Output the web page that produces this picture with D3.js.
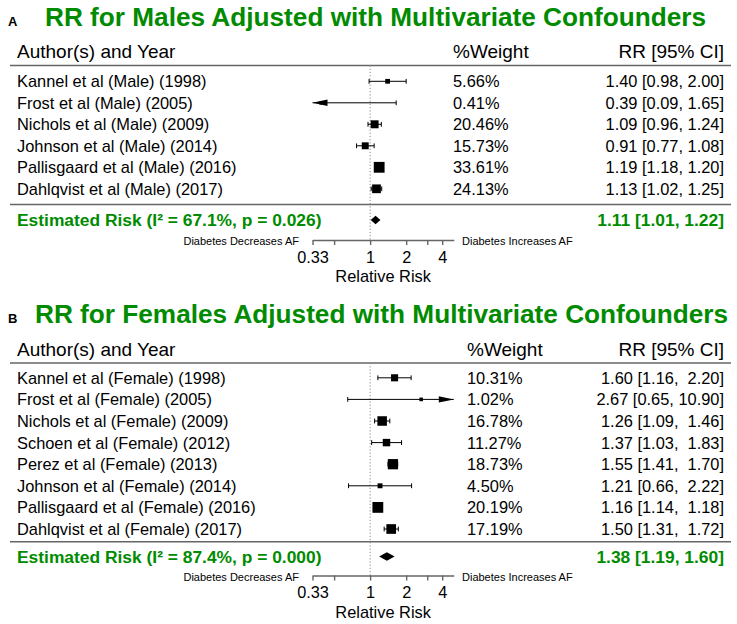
<!DOCTYPE html>
<html>
<head>
<meta charset="utf-8">
<script src="https://cdn.jsdelivr.net/npm/d3@7"></script>
<style>
  html, body { margin: 0; padding: 0; background: #fff; }
  text { font-family: "Liberation Sans", Arial, Helvetica, sans-serif; white-space: pre; }
</style>
</head>
<body>
<svg id="chart" width="737" height="624"></svg>
<script>
// ---------- DATA ----------
const maleStudies = ["Kannel et al (Male) (1998)", "Frost et al (Male) (2005)", "Nichols et al (Male) (2009)",
  "Johnson et al (Male) (2014)", "Pallisgaard et al (Male) (2016)", "Dahlqvist et al (Male) (2017)"];
const maleRR    = [1.40, 0.39, 1.09, 0.91, 1.19, 1.13];
const maleLower = [0.98, 0.09, 0.96, 0.77, 1.18, 1.02];
const maleUpper = [2.00, 1.65, 1.24, 1.08, 1.20, 1.25];
const maleWeight = [5.66, 0.41, 20.46, 15.73, 33.61, 24.13];
const maleCI = ["1.40 [0.98, 2.00]", "0.39 [0.09, 1.65]", "1.09 [0.96, 1.24]", "0.91 [0.77, 1.08]",
  "1.19 [1.18, 1.20]", "1.13 [1.02, 1.25]"];
const maleSummary = { rr: 1.11, lower: 1.01, upper: 1.22, label: "Estimated Risk (I\u00B2 = 67.1%, p = 0.026)",
  ci: "1.11 [1.01, 1.22]" };

const femaleStudies = ["Kannel et al (Female) (1998)", "Frost et al (Female) (2005)", "Nichols et al (Female) (2009)",
  "Schoen et al (Female) (2012)", "Perez et al (Female) (2013)", "Johnson et al (Female) (2014)",
  "Pallisgaard et al (Female) (2016)", "Dahlqvist et al (Female) (2017)"];
const femaleRR    = [1.60, 2.67, 1.26, 1.37, 1.55, 1.21, 1.16, 1.50];
const femaleLower = [1.16, 0.65, 1.09, 1.03, 1.41, 0.66, 1.14, 1.31];
const femaleUpper = [2.20, 10.90, 1.46, 1.83, 1.70, 2.22, 1.18, 1.72];
const femaleWeight = [10.31, 1.02, 16.78, 11.27, 18.73, 4.50, 20.19, 17.19];
const femaleCI = ["1.60 [1.16,  2.20]", "2.67 [0.65, 10.90]", "1.26 [1.09,  1.46]", "1.37 [1.03,  1.83]",
  "1.55 [1.41,  1.70]", "1.21 [0.66,  2.22]", "1.16 [1.14,  1.18]", "1.50 [1.31,  1.72]"];
const femaleSummary = { rr: 1.38, lower: 1.19, upper: 1.60, label: "Estimated Risk (I\u00B2 = 87.4%, p = 0.000)",
  ci: "1.38 [1.19, 1.60]" };

const axisDomain = [0.33, 5];
const tickValues = [0.33, 0.5, 1, 2, 3, 4];
const tickLabels = ["0.33", "", "1", "2", "", "4"];
const headerLabels = ["Author(s) and Year", "%Weight", "RR [95% CI]"];
const axisTitle = "Relative Risk";
const leftNote = "Diabetes Decreases AF";
const rightNote = "Diabetes Increases AF";

// ---------- DRAW ----------
const GREEN = "#008B00";
const GREY = "#666";
const svg = d3.select("#chart");
svg.append("rect").attr("width", 737).attr("height", 624).attr("fill", "#fff");

const x = d3.scaleLog().domain(axisDomain).range([312.5, 453.8]);

function drawPanel(cfg) {
  const g = svg.append("g");
  const n = cfg.studies.length;
  const yRow = i => cfg.rowY0 + i * cfg.rowStep;

  // panel letter + title
  g.append("text").attr("x", 8).attr("y", cfg.titleY).attr("font-size", 13).attr("font-weight", "bold")
    .text(cfg.letter);
  g.append("text").attr("x", cfg.titleX).attr("y", cfg.titleY).attr("font-size", 26.2).attr("font-weight", "bold")
    .attr("fill", GREEN).text(cfg.title);

  // headers
  g.append("text").attr("x", 17).attr("y", cfg.headerY).attr("font-size", 19).text(headerLabels[0]);
  g.append("text").attr("x", cfg.weightX).attr("y", cfg.headerY).attr("font-size", 19).text(headerLabels[1]);
  g.append("text").attr("x", 724).attr("y", cfg.headerY).attr("font-size", 19).attr("text-anchor", "end")
    .text(headerLabels[2]);

  // horizontal rules
  [cfg.topLineY, cfg.bottomLineY].forEach(yy => {
    g.append("line").attr("x1", 10).attr("x2", 731).attr("y1", yy).attr("y2", yy)
      .attr("stroke", GREY).attr("stroke-width", 1.6);
  });

  // reference line at RR = 1
  g.append("line").attr("x1", x(1)).attr("x2", x(1)).attr("y1", cfg.topLineY).attr("y2", cfg.axisY)
    .attr("stroke", "#888").attr("stroke-width", 1).attr("stroke-dasharray", "1.2,2");

  // box size scale (metafor style: linear in weight, 0.5..1.5 units)
  const unit = 7.2;
  const size = d3.scaleLinear().domain(d3.extent(cfg.weight)).range([0.5 * unit, 1.5 * unit]);

  const [d0, d1] = x.domain();
  for (let i = 0; i < n; i++) {
    const yy = yRow(i);
    g.append("text").attr("x", 17).attr("y", yy).attr("dy", "0.36em").attr("font-size", 16.4).text(cfg.studies[i]);
    g.append("text").attr("x", cfg.weightX).attr("y", yy).attr("dy", "0.36em").attr("font-size", 16.4)
      .text(cfg.weight[i].toFixed(2) + "%");
    g.append("text").attr("x", 724).attr("y", yy).attr("dy", "0.36em").attr("font-size", 16.4)
      .attr("text-anchor", "end").text(cfg.ci[i]);

    const lo = cfg.lower[i], hi = cfg.upper[i];
    const loC = Math.max(lo, d0), hiC = Math.min(hi, d1);
    g.append("line").attr("x1", x(loC)).attr("x2", x(hiC)).attr("y1", yy).attr("y2", yy)
      .attr("stroke", "#000").attr("stroke-width", 1);
    const cap = 2.4, ah = 15, aw = 3.2;
    if (lo >= d0) {
      g.append("line").attr("x1", x(lo)).attr("x2", x(lo)).attr("y1", yy - cap).attr("y2", yy + cap)
        .attr("stroke", "#000").attr("stroke-width", 1);
    } else {
      const xt = x(d0);
      g.append("path").attr("d", `M${xt},${yy} L${xt + ah},${yy - aw} L${xt + ah},${yy + aw} Z`).attr("fill", "#000");
    }
    if (hi <= d1) {
      g.append("line").attr("x1", x(hi)).attr("x2", x(hi)).attr("y1", yy - cap).attr("y2", yy + cap)
        .attr("stroke", "#000").attr("stroke-width", 1);
    } else {
      const xt = x(d1);
      g.append("path").attr("d", `M${xt},${yy} L${xt - ah},${yy - aw} L${xt - ah},${yy + aw} Z`).attr("fill", "#000");
    }
    const rr = cfg.rr[i];
    if (rr >= d0 && rr <= d1) {
      const s = size(cfg.weight[i]);
      g.append("rect").attr("x", x(rr) - s / 2).attr("y", yy - s / 2).attr("width", s).attr("height", s)
        .attr("fill", "#000");
    }
  }

  // summary
  const sm = cfg.summary, sy = cfg.summaryY;
  g.append("text").attr("x", 17).attr("y", sy).attr("dy", "0.36em").attr("font-size", 17.4)
    .attr("font-weight", "bold").attr("fill", GREEN).text(sm.label);
  g.append("text").attr("x", 724).attr("y", sy).attr("dy", "0.36em").attr("font-size", 17.4)
    .attr("font-weight", "bold").attr("fill", GREEN).attr("text-anchor", "end").text(sm.ci);
  const dh = 4.2;
  g.append("path").attr("d", `M${x(sm.lower)},${sy} L${x(sm.rr)},${sy - dh} L${x(sm.upper)},${sy} L${x(sm.rr)},${sy + dh} Z`)
    .attr("fill", "#000");

  // axis
  const ax = g.append("g").attr("transform", `translate(0,${cfg.axisY})`)
    .call(d3.axisBottom(x).tickValues(tickValues).tickFormat((d, i) => tickLabels[i])
      .tickSize(5).tickSizeOuter(0).tickPadding(6));
  ax.select(".domain").attr("stroke", GREY).attr("stroke-width", 1.4);
  ax.selectAll(".tick line").attr("stroke", GREY).attr("stroke-width", 1.4);
  ax.selectAll(".tick text").attr("font-size", 16.3).attr("fill", "#000")
    .attr("font-family", "'Liberation Sans', Arial, Helvetica, sans-serif");
  ax.attr("font-family", null);

  g.append("text").attr("x", (x.range()[0] + x.range()[1]) / 2).attr("y", cfg.axisTitleY)
    .attr("font-size", 16.4).attr("text-anchor", "middle").text(axisTitle);
  g.append("text").attr("x", 299).attr("y", cfg.noteY).attr("font-size", 11).attr("text-anchor", "end").text(leftNote);
  g.append("text").attr("x", 462).attr("y", cfg.noteY).attr("font-size", 11).text(rightNote);
}

drawPanel({
  letter: "A", title: "RR for Males Adjusted with Multivariate Confounders", titleX: 45, titleY: 26,
  headerY: 57.5, topLineY: 65.5, rowY0: 81.3, rowStep: 21.5, bottomLineY: 204.5, summaryY: 220,
  axisY: 240, axisTitleY: 281.7, noteY: 245, weightX: 453,
  studies: maleStudies, rr: maleRR, lower: maleLower, upper: maleUpper, weight: maleWeight, ci: maleCI,
  summary: maleSummary
});

drawPanel({
  letter: "B", title: "RR for Females Adjusted with Multivariate Confounders", titleX: 35, titleY: 323.3,
  headerY: 355.5, topLineY: 363, rowY0: 377.8, rowStep: 21.6, bottomLineY: 541.7, summaryY: 556.5,
  axisY: 575.5, axisTitleY: 618, noteY: 580.5, weightX: 467,
  studies: femaleStudies, rr: femaleRR, lower: femaleLower, upper: femaleUpper, weight: femaleWeight, ci: femaleCI,
  summary: femaleSummary
});
</script>
</body>
</html>
